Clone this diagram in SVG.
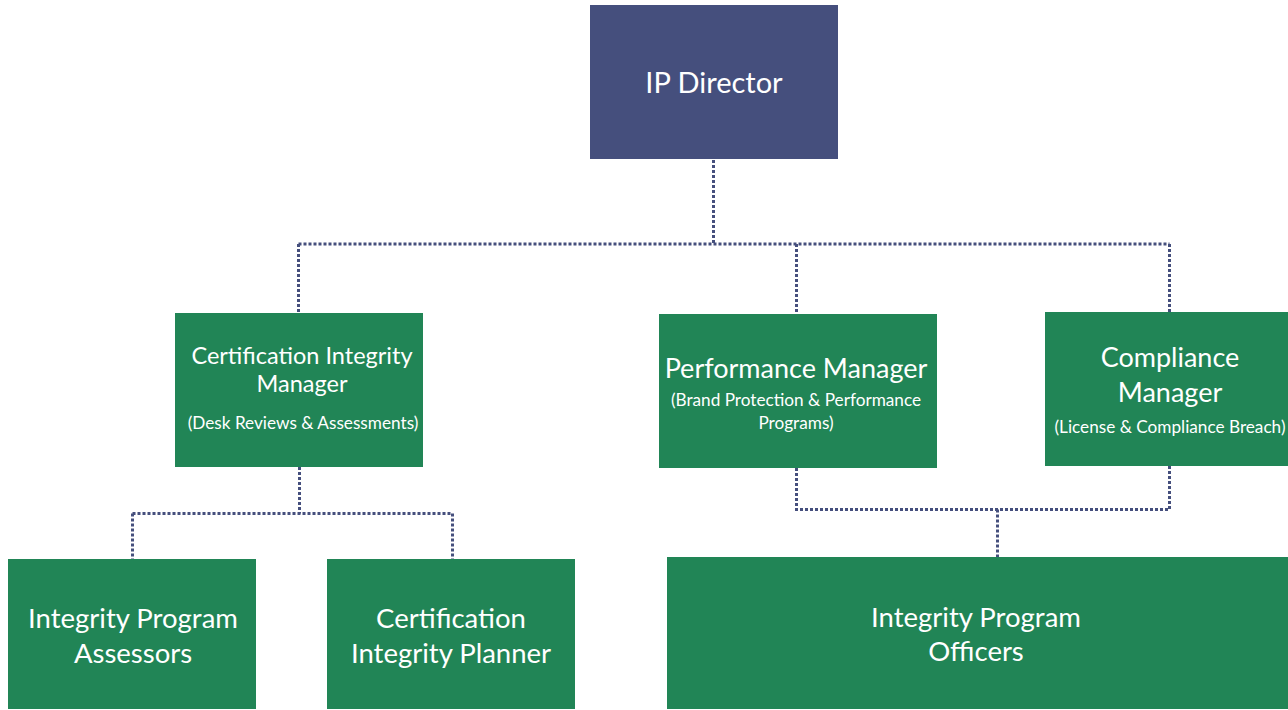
<svg xmlns="http://www.w3.org/2000/svg" width="1288" height="710" viewBox="0 0 1288 710">
<style>
.g{fill:#218556}
.b{fill:#454F7D}
text{fill:#ffffff;font-family:Lato,"Noto Sans",sans-serif;text-anchor:middle}
.t{font-size:27.5px}
.m{font-size:23.5px}
.l{font-size:27px}
.s{font-size:17.2px}
.c{fill:none;stroke:#454F7D;stroke-width:3;stroke-dasharray:3 2}
</style>
<rect width="1288" height="710" fill="#ffffff"/>
<g id="connectors">
<path class="c" d="M713.5,160 V244 M298.5,244 H1169.5 M298.5,244 V313 M796.5,244 V314 M1169.5,244 V312"/>
<path class="c" d="M299.5,467 V513.5 M132.5,513.5 H452.5 M132.5,513.5 V559 M452.5,513.5 V559"/>
<path class="c" d="M796.5,468 V509.5 H1169.5 V466 M997.5,509.5 V557"/>
</g>
<g id="ip-director">
<rect class="b" x="590" y="5" width="248" height="154"/>
<text x="714" y="93" style="font-size:29px">IP Director</text>
</g>
<g id="cert-integrity-manager">
<rect class="g" x="175" y="313" width="248" height="154"/>
<text x="302" y="364" class="m">Certification Integrity</text>
<text x="302" y="392" class="m">Manager</text>
<text x="303" y="429" class="s">(Desk Reviews &amp; Assessments)</text>
</g>
<g id="performance-manager">
<rect class="g" x="659" y="314" width="278" height="154"/>
<text x="796" y="378" class="l">Performance Manager</text>
<text x="796" y="406" class="s">(Brand Protection &amp; Performance</text>
<text x="796" y="429" class="s">Programs)</text>
</g>
<g id="compliance-manager">
<rect class="g" x="1045" y="312" width="243" height="154"/>
<text x="1170" y="367" class="l">Compliance</text>
<text x="1170" y="402" class="l">Manager</text>
<text x="1170" y="433" class="s">(License &amp; Compliance Breach)</text>
</g>
<g id="integrity-program-assessors">
<rect class="g" x="8" y="559" width="248" height="150"/>
<text x="133" y="628" class="t">Integrity Program</text>
<text x="133" y="663" class="t">Assessors</text>
</g>
<g id="cert-integrity-planner">
<rect class="g" x="327" y="559" width="248" height="150"/>
<text x="451" y="628" class="t">Certification</text>
<text x="451" y="663" class="t">Integrity Planner</text>
</g>
<g id="integrity-program-officers">
<rect class="g" x="667" y="557" width="621" height="152"/>
<text x="976" y="627" class="t">Integrity Program</text>
<text x="976" y="661" class="t">Officers</text>
</g>
</svg>
